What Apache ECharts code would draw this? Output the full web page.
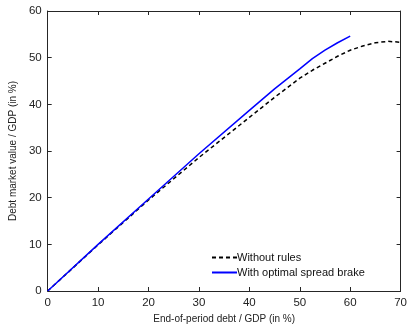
<!DOCTYPE html>
<html>
<head>
<meta charset="utf-8">
<script src="https://cdn.jsdelivr.net/npm/echarts@6/dist/echarts.min.js"></script>
<style>
  html, body { margin: 0; padding: 0; background: #fff; }
  #chart { width: 410px; height: 330px; }
</style>
</head>
<body>
<div id="chart"></div>
<script>
// Debt market value against end-of-period debt, both as % of GDP
const noRulesDebt  = [0, 10, 20, 30, 40, 45, 50, 52.5, 55, 57.5, 60, 62.5, 65, 67.5, 70];
const noRulesValue = [0, 9.9, 19.5, 28.6, 37.2, 41.5, 45.6, 47.3, 48.8, 50.3, 51.6, 52.5, 53.2, 53.5, 53.3];

const brakeDebt  = [0, 10, 20, 30, 40, 45, 50, 52.5, 55, 57.5, 60];
const brakeValue = [0, 10, 19.7, 29.4, 38.7, 43.3, 47.6, 49.8, 51.6, 53.2, 54.6];

const xTicks = { min: 0, max: 70, interval: 10 };
const yTicks = { min: 0, max: 60, interval: 10 };

const seriesNames = ['Without rules', 'With optimal spread brake'];
const xTitle = 'End-of-period debt / GDP (in %)';
const yTitle = 'Debt market value / GDP (in %)';

const zip = (xs, ys) => xs.map((x, i) => [x, ys[i]]);

const font = '"Liberation Sans", Arial, Helvetica, sans-serif';
const axisColor = '#262626';

function mainAxis(t, name, gap) {
  return {
    type: 'value', min: t.min, max: t.max, interval: t.interval,
    name: name, nameLocation: 'middle', nameGap: gap,
    nameTextStyle: { fontFamily: font, fontSize: 10, color: '#222' },
    axisLine: { show: true, onZero: false, lineStyle: { color: axisColor, width: 1 } },
    axisTick: { show: true, inside: true, length: 4, lineStyle: { color: axisColor } },
    axisLabel: { fontFamily: font, fontSize: 11.5, color: '#222', margin: 6 },
    splitLine: { show: false }
  };
}
function mirrorAxis(t, pos) {
  return {
    type: 'value', min: t.min, max: t.max, interval: t.interval, position: pos,
    axisLine: { show: true, onZero: false, lineStyle: { color: axisColor, width: 1 } },
    axisTick: { show: true, inside: true, length: 4, lineStyle: { color: axisColor } },
    axisLabel: { show: false }, splitLine: { show: false }
  };
}

const chart = echarts.init(document.getElementById('chart'), null, { renderer: 'canvas' });
chart.setOption({
  animation: false,
  backgroundColor: '#fff',
  grid: { left: 44, right: 9, top: 11, bottom: 39, containLabel: false },
  xAxis: [
    Object.assign(mainAxis(xTicks, xTitle, 20), { position: 'bottom' }),
    mirrorAxis(xTicks, 'top')
  ],
  yAxis: [
    Object.assign(mainAxis(yTicks, yTitle, 26), { position: 'left' }),
    mirrorAxis(yTicks, 'right')
  ],
  legend: {
    left: 209, top: 250, orient: 'vertical', itemGap: 4,
    itemWidth: 25, itemHeight: 10,
    backgroundColor: '#fff', padding: [2, 2, 2, 2],
    itemStyle: { opacity: 0 },
    textStyle: { fontFamily: font, fontSize: 11, color: '#111', padding: [0, 0, 0, -5] },
    data: seriesNames
  },
  series: [
    {
      name: seriesNames[0], type: 'line', symbol: 'none',
      data: zip(noRulesDebt, noRulesValue),
      lineStyle: { color: '#000', width: 1.5, type: [4, 3] },
      itemStyle: { color: '#000' }, z: 2
    },
    {
      name: seriesNames[1], type: 'line', symbol: 'none',
      data: zip(brakeDebt, brakeValue),
      lineStyle: { color: '#0000ff', width: 1.5 },
      itemStyle: { color: '#0000ff' }, z: 3
    }
  ]
});
</script>
</body>
</html>
